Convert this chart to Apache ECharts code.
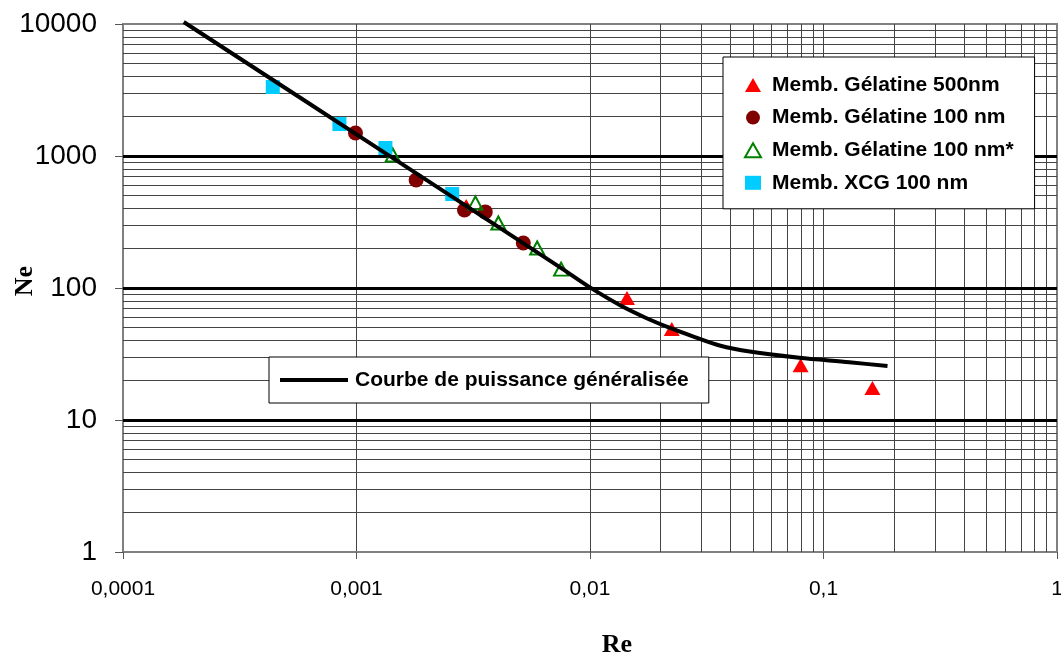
<!DOCTYPE html>
<html>
<head>
<meta charset="utf-8">
<script src="https://cdn.jsdelivr.net/npm/echarts@6/dist/echarts.min.js"></script>
<style>
  html, body { margin: 0; padding: 0; background: #fff; }
  #main { width: 1061px; height: 657px; }
</style>
</head>
<body>
<div id="main"></div>
<script>
// valeurs (Re, Ne)
var xLabels = ['0,0001', '0,001', '0,01', '0,1', '1'];
var yLabels = ['1', '10', '100', '1000', '10000'];

var re500 = [0.00295, 0.0144, 0.0224, 0.0798, 0.162];
var ne500 = [418, 84, 49, 26, 17.5];

var re100 = [0.00099, 0.0018, 0.0029, 0.00356, 0.00518];
var ne100 = [1493, 658, 390, 377, 219];

var re100s = [0.00143, 0.00323, 0.00405, 0.00594, 0.00752];
var ne100s = [1018, 441, 311, 201, 139];

var reXCG = [0.000438, 0.000845, 0.00133, 0.00257];
var neXCG = [3333, 1746, 1150, 515];

// courbe de puissance généralisée (points relevés le long du tracé)
var reCurve = [0.000182, 0.0014, 0.00374, 0.00742, 0.01, 0.0134, 0.0172, 0.022, 0.0281, 0.0359, 0.0483, 0.0788, 0.129, 0.188];
var neCurve = [10350, 990, 318, 144, 101, 74.3, 59.8, 49.8, 42.5, 36.7, 33.0, 29.6, 27.4, 25.6];

var names = ['Memb. Gélatine 500nm', 'Memb. Gélatine 100 nm', 'Memb. Gélatine 100 nm*', 'Memb. XCG 100 nm'];
var curveName = 'Courbe de puissance généralisée';

function pairs(xs, ys) {
    return xs.map(function (x, i) { return [x, ys[i]]; });
}

// lignes de grille secondaires (2..9 dans chaque décade)
var gridLines = [];
[0.0001, 0.001, 0.01, 0.1].forEach(function (d) {
    for (var k = 2; k <= 9; k++) gridLines.push({ xAxis: k * d });
});
[1, 10, 100, 1000].forEach(function (d) {
    for (var k = 2; k <= 9; k++) gridLines.push({ yAxis: k * d });
});
[10, 100, 1000].forEach(function (v) {
    gridLines.push({ yAxis: v, lineStyle: { color: '#000', width: 3, type: 'solid' } });
});

var legendFont = { fontFamily: 'Liberation Sans, Arial', fontWeight: 'bold', fontSize: 21, color: '#000', lineHeight: 24 };

var myChart = echarts.init(document.getElementById('main'));

var option = {
    animation: false,
    grid: {
        left: 123, top: 24, right: 4, bottom: 105,
        outerBoundsMode: 'none', containLabel: false,
        show: true, borderColor: '#808080', borderWidth: 2, backgroundColor: '#fff'
    },
    legend: [{
        orient: 'vertical',
        left: 723, top: 57,
        data: names,
        backgroundColor: '#fff',
        borderColor: '#000',
        borderWidth: 1,
        padding: [16, 21, 14, 21],
        itemWidth: 16, itemHeight: 14, itemGap: 8.6,
        textStyle: Object.assign({ padding: [0, 0, 0, 6] }, legendFont)
    }, {
        left: 269, top: 357,
        data: [{ name: curveName, icon: 'rect' }],
        backgroundColor: '#fff',
        borderColor: '#000',
        borderWidth: 1,
        padding: [11, 20, 11, 11],
        itemWidth: 68, itemHeight: 4,
        textStyle: Object.assign({ padding: [0, 0, 0, 2] }, legendFont)
    }],
    xAxis: {
        type: 'log', logBase: 10, min: 0.0001, max: 1,
        name: 'Re', nameLocation: 'middle', nameGap: 80, nameMoveOverlap: false,
        nameTextStyle: { fontFamily: 'Liberation Serif, Times New Roman', fontWeight: 'bold', fontSize: 26, color: '#000', padding: [0, 0, 0, 54] },
        axisLine: { lineStyle: { color: '#808080', width: 2 } },
        axisTick: { show: true, length: 7, inside: false, lineStyle: { color: '#555' } },
        axisLabel: {
            margin: 27,
            fontFamily: 'Liberation Sans, Arial',
            fontSize: 21, color: '#000',
            formatter: function (v) { return xLabels[Math.round(Math.log10(v)) + 4]; }
        },
        splitLine: { show: true, showMinLine: false, showMaxLine: false, lineStyle: { color: '#444', width: 1 } }
    },
    yAxis: {
        type: 'log', logBase: 10, min: 1, max: 10000,
        name: 'Ne', nameLocation: 'middle', nameGap: 85, nameMoveOverlap: false,
        nameTextStyle: { fontFamily: 'Liberation Serif, Times New Roman', fontWeight: 'bold', fontSize: 26, color: '#000', padding: [0, 0, 0, 14] },
        axisLine: { lineStyle: { color: '#808080', width: 2 } },
        axisTick: { show: true, length: 8, inside: false, lineStyle: { color: '#555' } },
        axisLabel: {
            margin: 26,
            fontFamily: 'Liberation Sans, Arial',
            fontSize: 28, color: '#000',
            padding: [4, 0, 0, 0],
            formatter: function (v) { return yLabels[Math.round(Math.log10(v))]; }
        },
        splitLine: { show: false }
    },
    series: [{
        name: 'grille',
        type: 'line',
        data: [],
        silent: true,
        markLine: {
            silent: true, z: 1, animation: false,
            symbol: ['none', 'none'],
            label: { show: false },
            lineStyle: { color: '#444', width: 1, type: 'solid' },
            emphasis: { disabled: true },
            data: gridLines
        }
    }, {
        name: names[0], type: 'scatter', z: 2,
        symbol: 'triangle', symbolSize: [16, 14],
        itemStyle: { color: '#ff0000', opacity: 1 },
        data: pairs(re500, ne500)
    }, {
        name: names[1], type: 'scatter', z: 2,
        symbol: 'circle', symbolSize: 15,
        itemStyle: { color: '#800000', opacity: 1 },
        data: pairs(re100, ne100)
    }, {
        name: names[2], type: 'scatter', z: 2,
        symbol: 'triangle', symbolSize: [14, 13],
        itemStyle: { color: 'rgba(255,255,255,0)', borderColor: '#008000', borderWidth: 2, opacity: 1 },
        data: pairs(re100s, ne100s)
    }, {
        name: names[3], type: 'scatter', z: 2,
        symbol: 'rect', symbolSize: 14,
        itemStyle: { color: '#00ccff', opacity: 1 },
        data: pairs(reXCG, neXCG)
    }, {
        name: curveName, type: 'line', z: 3,
        smooth: 0.3, symbol: 'none', showSymbol: false, clip: false,
        lineStyle: { color: '#000', width: 4 },
        itemStyle: { color: '#000' },
        data: pairs(reCurve, neCurve)
    }]
};

myChart.setOption(option);
</script>
</body>
</html>
